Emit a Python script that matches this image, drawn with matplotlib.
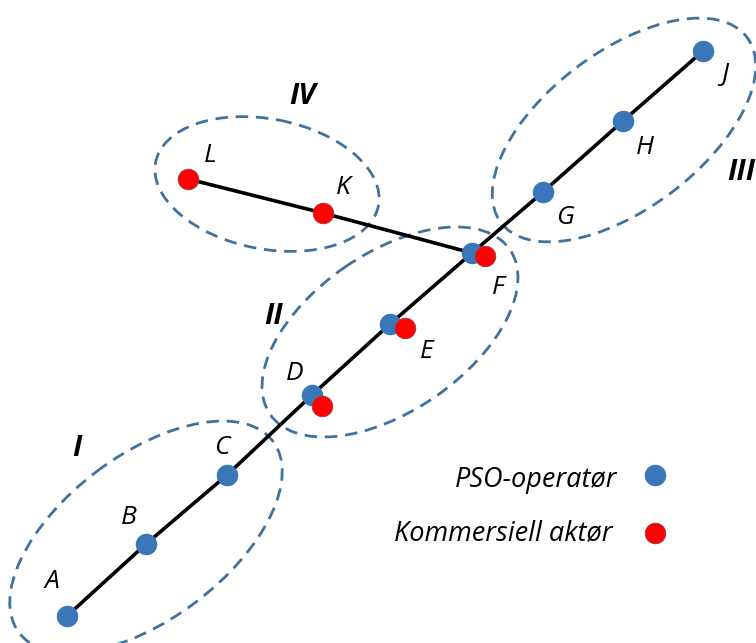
import matplotlib.pyplot as plt
from matplotlib.patches import Ellipse

# stops along the main route (pixel coords, y down)
route_names = ['A', 'B', 'C', 'D', 'E', 'F', 'G', 'H', 'J']
route_x = [67, 146, 227, 312, 390, 472, 543, 623, 703]
route_y = [616, 544, 475, 395, 324, 253, 192, 121, 51]

# branch L - K - F
branch_names = ['L', 'K']
branch_x = [188, 323]
branch_y = [179, 213]

# commercial operator stops next to the PSO ones
comm_x = [322, 405, 485]
comm_y = [406, 328, 256]

# label offsets from each node
lab_off = {'A': (-15, -34), 'B': (-17, -27), 'C': (-5, -28), 'D': (-17, -22),
           'E': (37, 28), 'F': (26, 34), 'G': (22, 25), 'H': (22, 26),
           'J': (22, 24), 'L': (22, -24), 'K': (20, -25)}

# areas: name, center, width, height, angle, label position
areas = ['I', 'II', 'III', 'IV']
area_cx = [146, 390, 624, 267]
area_cy = [537, 332, 130, 184]
area_w = [318, 291, 308, 227]
area_h = [164, 158, 157, 130]
area_ang = [-37, -34.5, -37, 11]
area_lx = [77, 274, 741, 302]
area_ly = [448, 316, 172, 97]

legend_labels = ['PSO-operatør', 'Kommersiell aktør']

blue = '#3a77b9'
red = '#ff0000'
dash_col = '#41719c'

fig = plt.figure(figsize=(7.56, 6.43), dpi=100)
ax = fig.add_axes([0, 0, 1, 1])
ax.set_xlim(0, 756)
ax.set_ylim(643, 0)
ax.set_aspect('equal')
ax.axis('off')

font = ['Open Sans', 'DejaVu Sans']

for i in range(len(areas)):
    e = Ellipse((area_cx[i], area_cy[i]), area_w[i], area_h[i], angle=area_ang[i],
                fill=False, edgecolor=dash_col, lw=2, ls=(0, (4.5, 2.8)), zorder=1)
    ax.add_patch(e)
    ax.text(area_lx[i], area_ly[i], areas[i], fontsize=21, fontweight='bold',
            style='italic', ha='center', va='center', family=font)

ax.plot(route_x, route_y, color='black', lw=2.6, zorder=2)
ax.plot(branch_x + [route_x[5]], branch_y + [route_y[5]], color='black', lw=2.6, zorder=2)

ax.scatter(route_x, route_y, s=240, color=blue, zorder=3, linewidths=0)
ax.scatter(comm_x, comm_y, s=220, color=red, edgecolor='#9b3a4a', linewidths=0.6, zorder=4)
ax.scatter(branch_x, branch_y, s=220, color=red, edgecolor='#9b3a4a', linewidths=0.6, zorder=4)

for n, x, y in zip(route_names + branch_names, route_x + branch_x, route_y + branch_y):
    dx, dy = lab_off[n]
    ax.text(x + dx, y + dy, n, fontsize=19, style='italic', ha='center', va='center',
            family=font)

# legend
ax.text(617, 480, legend_labels[0], fontsize=19.5, style='italic', ha='right', va='center', family=font)
ax.text(612, 533, legend_labels[1], fontsize=19.5, style='italic', ha='right', va='center', family=font)
ax.scatter([655], [475], s=240, color=blue, linewidths=0, zorder=3)
ax.scatter([655], [533], s=220, color=red, edgecolor='#9b3a4a', linewidths=0.6, zorder=3)

fig.savefig('out.png', dpi=100)
